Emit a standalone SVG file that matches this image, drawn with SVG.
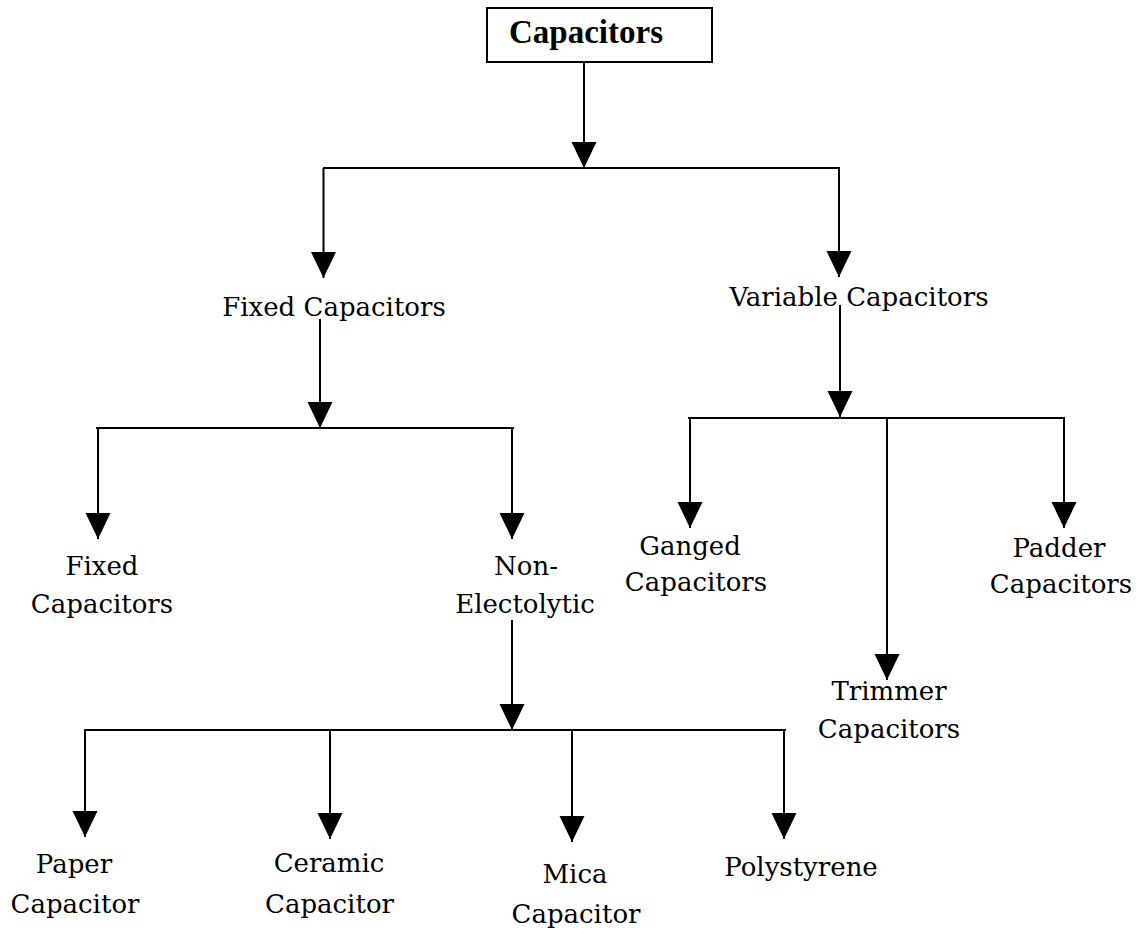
<svg xmlns="http://www.w3.org/2000/svg" width="1140" height="931" viewBox="0 0 1140 931">
  <style>
    .bg { fill: #ffffff; }
    .box { fill: #ffffff; stroke: #000000; stroke-width: 2; }
    .title { font-family: "Liberation Serif", "Times New Roman", serif; font-weight: bold; font-size: 33px; fill: #000000; text-anchor: middle; }
    .label { font-family: "DejaVu Serif", "Liberation Serif", serif; font-size: 26px; fill: #000000; text-anchor: middle; }
    .wire { stroke: #000000; stroke-width: 2; fill: none; }
    .arrow { stroke: #000000; stroke-width: 2; fill: none; marker-end: url(#head); }
  </style>
  <defs>
    <marker id="head" markerUnits="userSpaceOnUse" markerWidth="26" markerHeight="26" viewBox="0 0 26 26" refX="26" refY="12.5" orient="auto">
      <path d="M0,0 L26,12.5 L0,25 Z" fill="#000000"/>
    </marker>
  </defs>

  <rect class="bg" x="0" y="0" width="1140" height="931"/>

  <!-- connectors: buses and arrows -->
  <g id="connectors">
    <!-- root to first bus -->
    <line class="arrow" x1="584" y1="62" x2="584" y2="168"/>
    <line class="wire" x1="323" y1="168" x2="840" y2="168"/>
    <line class="arrow" x1="323.5" y1="168" x2="323.5" y2="278"/>
    <line class="arrow" x1="839" y1="168" x2="839" y2="277"/>

    <!-- fixed branch -->
    <line class="arrow" x1="320" y1="319" x2="320" y2="428"/>
    <line class="wire" x1="96" y1="428" x2="514" y2="428"/>
    <line class="arrow" x1="98" y1="428" x2="98" y2="539"/>
    <line class="arrow" x1="512" y1="428" x2="512" y2="539"/>

    <!-- non-electrolytic branch -->
    <line class="arrow" x1="512" y1="620" x2="512" y2="730"/>
    <line class="wire" x1="84" y1="730" x2="786" y2="730"/>
    <line class="arrow" x1="85" y1="730" x2="85" y2="837"/>
    <line class="arrow" x1="330" y1="730" x2="330" y2="839"/>
    <line class="arrow" x1="572" y1="730" x2="572" y2="842"/>
    <line class="arrow" x1="784" y1="730" x2="784" y2="839"/>

    <!-- variable branch -->
    <line class="arrow" x1="840" y1="305" x2="840" y2="417"/>
    <line class="wire" x1="688" y1="418" x2="1065" y2="418"/>
    <line class="arrow" x1="690" y1="418" x2="690" y2="528"/>
    <line class="arrow" x1="887" y1="418" x2="887" y2="680"/>
    <line class="arrow" x1="1064" y1="418" x2="1064" y2="528"/>
  </g>

  <!-- nodes -->
  <g id="capacitors">
    <rect class="box" x="487" y="8" width="225" height="54"/>
    <text class="title" x="586" y="43">Capacitors</text>
  </g>
  <g id="fixed-capacitors">
    <text class="label" x="334" y="316">Fixed Capacitors</text>
  </g>
  <g id="variable-capacitors">
    <text class="label" x="859" y="306">Variable Capacitors</text>
  </g>
  <g id="fixed-capacitors-sub">
    <text class="label" x="102" y="575">Fixed</text>
    <text class="label" x="102" y="613">Capacitors</text>
  </g>
  <g id="non-electolytic">
    <text class="label" x="526" y="575">Non-</text>
    <text class="label" x="525" y="613">Electolytic</text>
  </g>
  <g id="ganged-capacitors">
    <text class="label" x="690" y="555">Ganged</text>
    <text class="label" x="696" y="591">Capacitors</text>
  </g>
  <g id="trimmer-capacitors">
    <text class="label" x="889" y="700">Trimmer</text>
    <text class="label" x="889" y="738">Capacitors</text>
  </g>
  <g id="padder-capacitors">
    <text class="label" x="1059" y="557">Padder</text>
    <text class="label" x="1061" y="593">Capacitors</text>
  </g>
  <g id="paper-capacitor">
    <text class="label" x="74" y="873">Paper</text>
    <text class="label" x="75" y="913">Capacitor</text>
  </g>
  <g id="ceramic-capacitor">
    <text class="label" x="329" y="872">Ceramic</text>
    <text class="label" x="329.5" y="913">Capacitor</text>
  </g>
  <g id="mica-capacitor">
    <text class="label" x="575" y="883">Mica</text>
    <text class="label" x="576" y="923">Capacitor</text>
  </g>
  <g id="polystyrene">
    <text class="label" x="801" y="876">Polystyrene</text>
  </g>
</svg>
